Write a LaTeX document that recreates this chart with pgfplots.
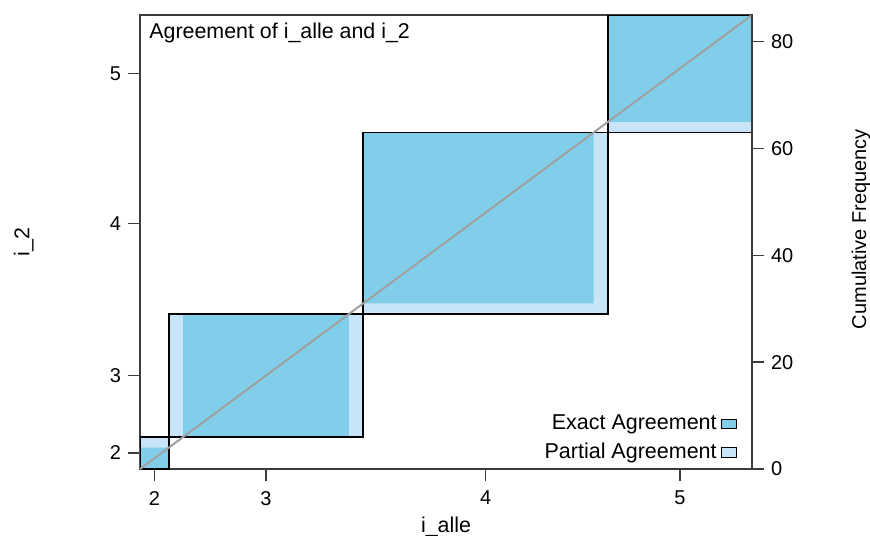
\documentclass[border=0pt]{standalone}
\usepackage{pgfplots}
\pgfplotsset{compat=1.18}
\usepackage{fontspec}
\setmainfont{Liberation Sans}
\definecolor{darkag}{RGB}{128,206,233}
\definecolor{lightag}{RGB}{199,228,248}
\definecolor{diagcol}{RGB}{160,160,160}
\definecolor{framecol}{RGB}{60,60,60}
\begin{document}
\fontsize{10}{12}\selectfont
\begin{tikzpicture}
\useasboundingbox (-70pt,-33pt) rectangle (365pt,234.5pt);
\begin{axis}[
  scale only axis, width=306pt, height=227pt,
  at={(0pt,0pt)}, anchor=south west,
  xmin=0, xmax=85, ymin=0, ymax=85,
  axis line style={framecol, line width=0.7pt},
  tick style={framecol, line width=0.7pt},
  tick align=outside, major tick length=6pt,
  xtick pos=lower, ytick pos=left,
  xtick={2,17.5,48,75}, xticklabels={2,3,4,5},
  ytick={3,17.5,46,74}, yticklabels={2,3,4,5},
  xticklabel style={font=\fontsize{10}{12}\selectfont, yshift=-1.5pt},
  yticklabel style={font=\fontsize{10}{12}\selectfont},
  xlabel={i\_alle},
  xlabel style={at={(axis description cs:0.5,0)}, anchor=base, yshift=-31.8pt, font=\fontsize{10.7}{12}\selectfont},
  ylabel={i\_2},
  ylabel style={at={(axis description cs:-0.1806,0.5)}, anchor=base, font=\fontsize{10.7}{12}\selectfont},
  legend plot pos=right,
  legend cell align=right,
  legend style={at={(axis description cs:0.976,0.006)}, anchor=south east, draw=none, fill=none,
    inner sep=0pt, row sep=1.2pt, font=\fontsize{10.75}{12}\selectfont},
  legend image code/.code={\draw[#1, draw=black, line width=0.6pt] (0pt,-2.4pt) rectangle (7.5pt,2.4pt);},
]
% partial agreement (light)
\addplot[fill=lightag, draw=none, forget plot] coordinates {(0,0) (4,0) (4,6) (0,6) (0,0)};
\addplot[fill=lightag, draw=none, forget plot] coordinates {(4,6) (31,6) (31,29) (4,29) (4,6)};
\addplot[fill=lightag, draw=none, forget plot] coordinates {(31,29) (65,29) (65,63) (31,63) (31,29)};
\addplot[fill=lightag, draw=none, forget plot] coordinates {(65,63) (85,63) (85,85) (65,85) (65,63)};
% exact agreement (dark)
\addplot[fill=darkag, draw=none, forget plot] coordinates {(0,0) (4,0) (4,4) (0,4) (0,0)};
\addplot[fill=darkag, draw=none, forget plot] coordinates {(6,6) (29,6) (29,29) (6,29) (6,6)};
\addplot[fill=darkag, draw=none, forget plot] coordinates {(31,31) (63,31) (63,63) (31,63) (31,31)};
\addplot[fill=darkag, draw=none, forget plot] coordinates {(65,65) (85,65) (85,85) (65,85) (65,65)};
% box outlines
\addplot[black, line width=0.75pt, forget plot] coordinates {(0,0) (4,0) (4,6) (0,6) (0,0)};
\addplot[black, line width=0.75pt, forget plot] coordinates {(4,6) (31,6) (31,29) (4,29) (4,6)};
\addplot[black, line width=0.75pt, forget plot] coordinates {(31,29) (65,29) (65,63) (31,63) (31,29)};
\addplot[black, line width=0.75pt, forget plot] coordinates {(65,63) (85,63) (85,85) (65,85) (65,63)};
% diagonal
\addplot[diagcol, line width=1pt, forget plot] coordinates {(0,0) (85,85)};
\addlegendimage{fill=darkag}
\addlegendentry{Exact Agreement}
\addlegendimage{fill=lightag}
\addlegendentry{Partial Agreement}
\node[anchor=west, inner sep=0pt, font=\fontsize{10.7}{12}\selectfont] at (rel axis cs:0.0147,0.9604) {Agreement of i\_alle and i\_2};
\end{axis}
\begin{axis}[
  scale only axis, width=306pt, height=227pt,
  at={(0pt,0pt)}, anchor=south west,
  xmin=0, xmax=85, ymin=0, ymax=85,
  axis x line=none, axis y line*=right,
  axis line style={framecol, line width=0.7pt},
  tick style={framecol, line width=0.7pt},
  tick align=outside, major tick length=6pt,
  ytick={0,20,40,60,80},
  /pgf/number format/assume math mode=true,
  yticklabel style={font=\fontsize{10}{12}\selectfont},
  ylabel={Cumulative Frequency},
  ylabel style={at={(axis description cs:1.1863,0.5286)}, anchor=base, font=\fontsize{10}{12}\selectfont},
]
\end{axis}
\end{tikzpicture}
\end{document}
